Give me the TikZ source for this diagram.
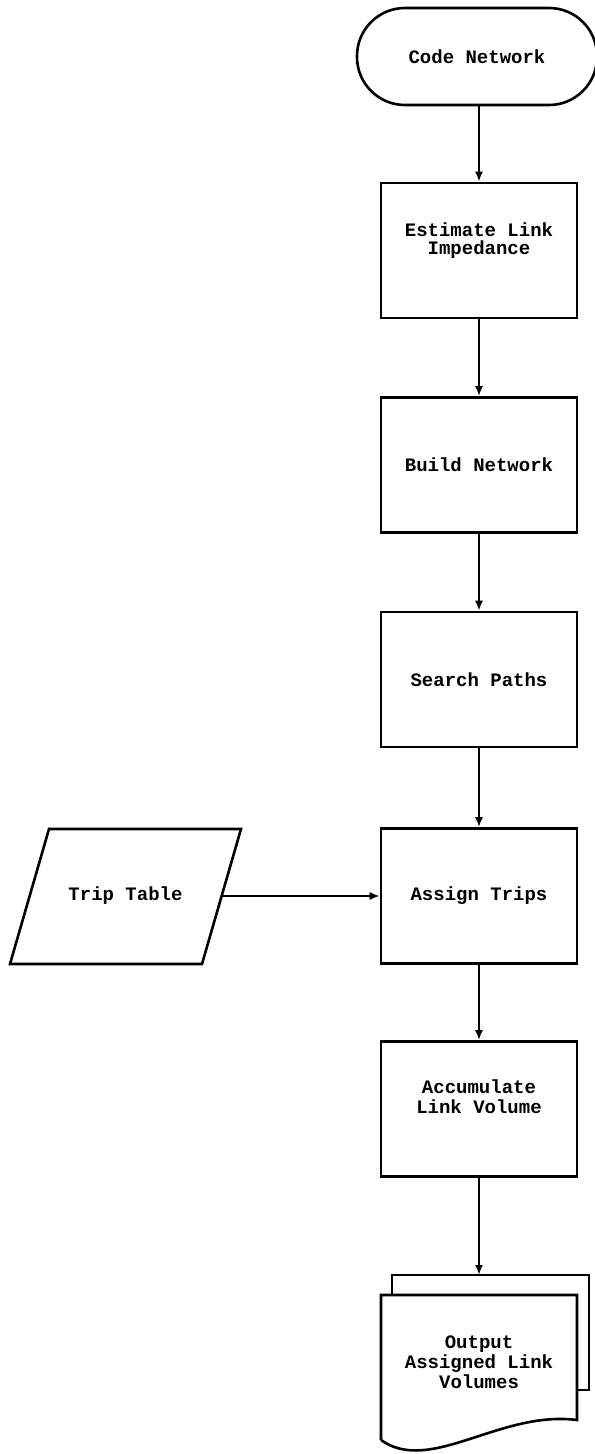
\documentclass[tikz,border=0pt]{standalone}
\usepackage{fontspec}
\setmonofont{Liberation Mono}
\usetikzlibrary{arrows.meta}

\begin{document}
\begin{tikzpicture}[x=0.5pt,y=-0.5pt,line width=1.3pt,
  every node/.style={font=\ttfamily\bfseries\fontsize{9.5}{10}\selectfont},
  procbox/.style={draw,minimum width=98pt,minimum height=67.5pt,align=center},
  twoline/.style={text depth=12pt},
  flow/.style={-{Latex[length=5pt,width=4pt]}}]
\useasboundingbox (0,0) rectangle (594,1454);
% main column
\node[draw,rounded corners=24pt,minimum width=120pt,minimum height=48.5pt] (code) at (477,56.5) {Code Network};
\node[procbox,twoline] (impedance) at (479,250.5) {Estimate Link\\[-1pt]Impedance};
\node[procbox] (build) at (479,465) {Build Network};
\node[procbox] (search) at (479,679.5) {Search Paths};
\node[procbox] (assign) at (479,896) {Assign Trips};
\node[procbox,twoline] (accumulate) at (479,1109) {Accumulate\\Link Volume};
% input
\draw (49,829) -- (241,829) -- (202,964) -- (10,964) -- cycle;
\node[minimum width=96.5pt] (trip) at (125.5,896) {Trip Table};
% output document
\node[align=center] (output) at (479,1362) {Output\\Assigned Link\\Volumes};
\draw (392,1295) |- (589,1275) |- (577,1390);
\draw (381,1440) -- (381,1295) -- (577,1295) -- (577,1420) .. controls (500,1410) and (430,1475) .. (381,1440);
\coordinate (outtop) at (479,1275);
% connectors
\draw[flow] (code.south -| impedance.north) -- (impedance.north);
\draw[flow] (impedance) -- (build);
\draw[flow] (build) -- (search);
\draw[flow] (search) -- (assign);
\draw[flow] (trip) -- (assign);
\draw[flow] (assign) -- (accumulate);
\draw[flow] (accumulate) -- (outtop);
\end{tikzpicture}
\end{document}
